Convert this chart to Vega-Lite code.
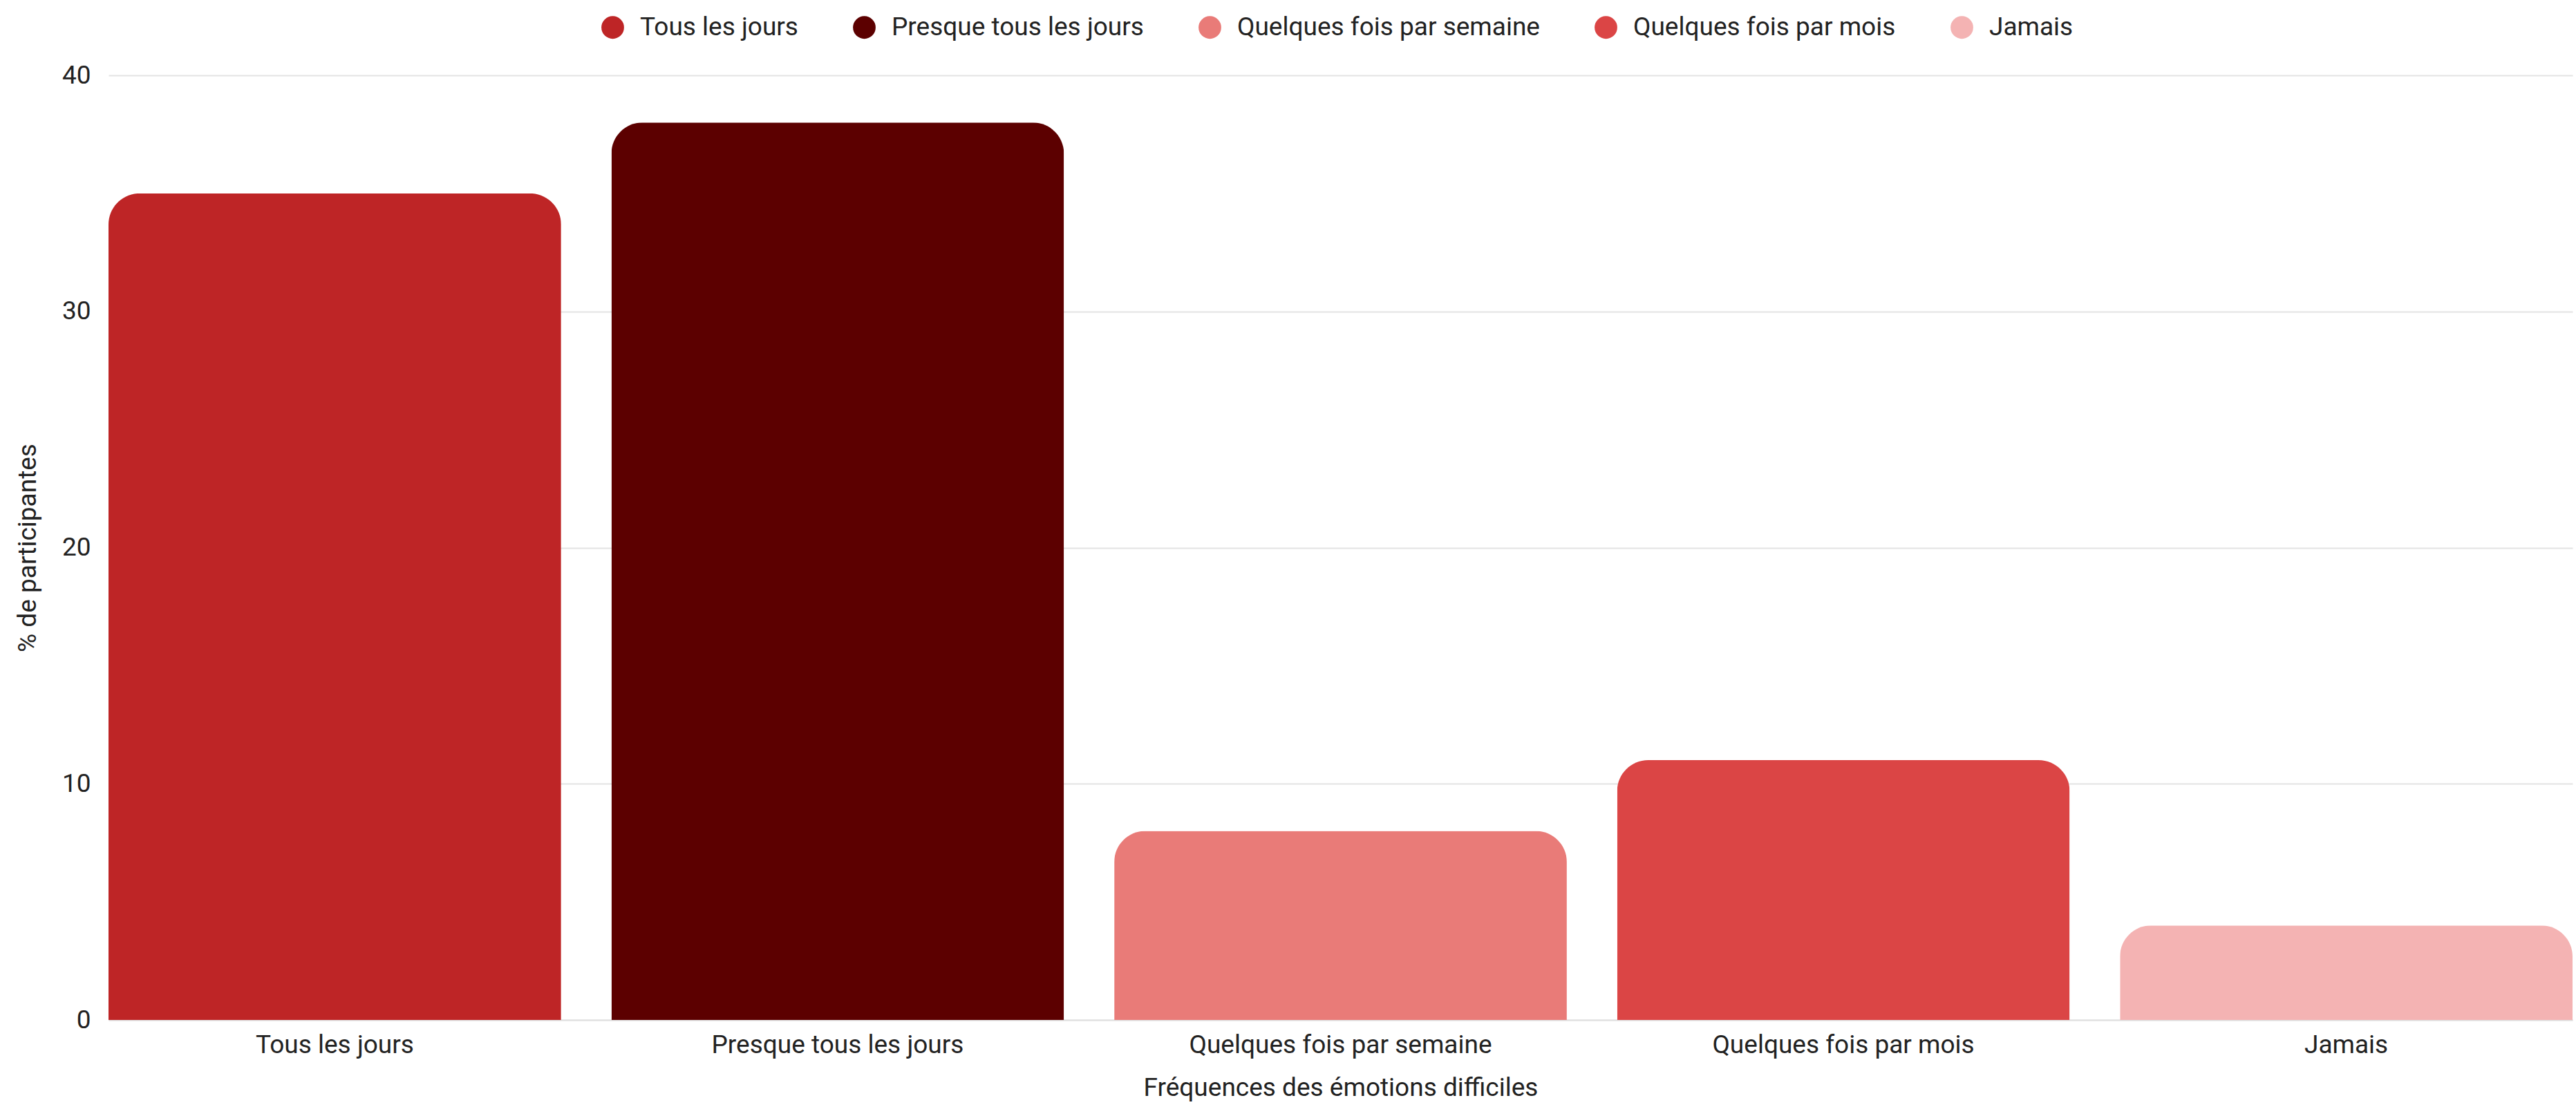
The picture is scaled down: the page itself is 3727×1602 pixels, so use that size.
{
  "$schema": "https://vega.github.io/schema/vega-lite/v6.json",
  "autosize": {"type": "none"},
  "width": 3565,
  "height": 1367,
  "padding": {"left": 157, "top": 109, "right": 5, "bottom": 126},
  "background": "white",
  "config": {
    "font": "Roboto",
    "view": {"stroke": null}
  },
  "data": {
    "values": [
      {"freq": "Tous les jours", "pct": 35},
      {"freq": "Presque tous les jours", "pct": 38},
      {"freq": "Quelques fois par semaine", "pct": 8},
      {"freq": "Quelques fois par mois", "pct": 11},
      {"freq": "Jamais", "pct": 4}
    ]
  },
  "mark": {"type": "bar", "cornerRadiusEnd": 45},
  "encoding": {
    "x": {
      "field": "freq",
      "type": "nominal",
      "sort": null,
      "scale": {"paddingInner": 0.1, "paddingOuter": 0},
      "axis": {
        "title": "Fréquences des émotions difficiles",
        "labelAngle": 0,
        "labelLimit": 0,
        "labelFontSize": 37,
        "labelColor": "#222222",
        "labelPadding": 18,
        "titleFontSize": 37,
        "titleFontWeight": "normal",
        "titleColor": "#222222",
        "titlePadding": 26,
        "ticks": false,
        "domainColor": "#e0e0e0",
        "domainWidth": 2
      }
    },
    "y": {
      "field": "pct",
      "type": "quantitative",
      "scale": {"domain": [0, 40]},
      "axis": {
        "title": "% de participantes",
        "values": [0, 10, 20, 30, 40],
        "labelFontSize": 37,
        "labelColor": "#222222",
        "labelPadding": 26,
        "titleFontSize": 37,
        "titleFontWeight": "normal",
        "titleColor": "#222222",
        "titlePadding": 30,
        "ticks": false,
        "domain": false,
        "gridColor": "#e3e3e3",
        "gridWidth": 2
      }
    },
    "color": {
      "field": "freq",
      "type": "nominal",
      "sort": null,
      "scale": {
        "domain": ["Tous les jours", "Presque tous les jours", "Quelques fois par semaine", "Quelques fois par mois", "Jamais"],
        "range": ["#BE2526", "#5C0000", "#E97B78", "#DB4545", "#F4B3B3"]
      },
      "legend": {
        "title": null,
        "orient": "none",
        "direction": "horizontal",
        "legendX": 711,
        "legendY": -88,
        "labelLimit": 0,
        "symbolType": "circle",
        "symbolSize": 1075,
        "symbolStrokeWidth": 0,
        "symbolOpacity": 1,
        "labelFontSize": 37,
        "labelColor": "#222222",
        "labelOffset": 21,
        "columnPadding": 77
      }
    }
  }
}
